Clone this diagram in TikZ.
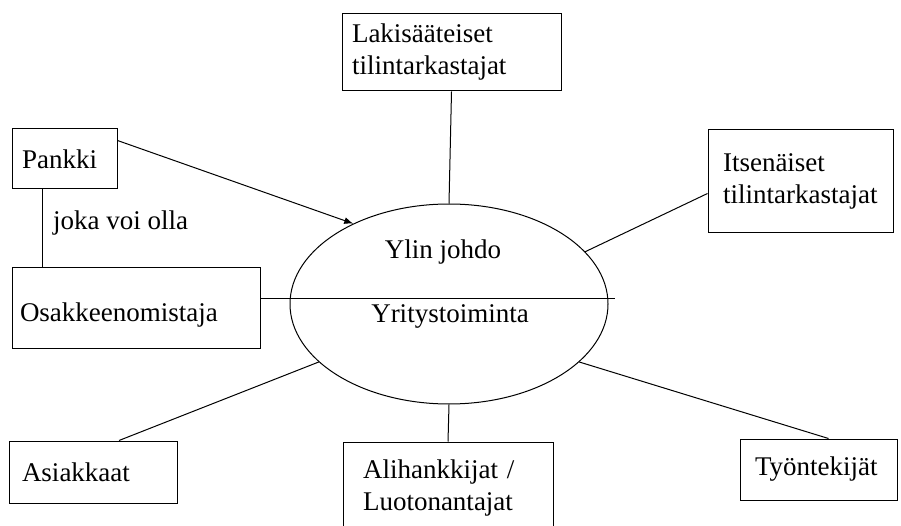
\documentclass[tikz,border=0pt]{standalone}
\usepackage{fontspec}
\setmainfont{Liberation Serif}
\usetikzlibrary{shapes.geometric,arrows.meta}
\tikzset{
  box/.style={draw, line width=1pt, rectangle, inner xsep=10pt, inner ysep=0pt, align=left,
    font=\fontsize{27}{32}\selectfont, anchor=center},
  ell/.style={draw, line width=1pt, ellipse, inner sep=0pt},
  lbl/.style={font=\fontsize{27}{32}\selectfont, inner sep=0pt},
  conn/.style={line width=1pt},
}
\begin{document}
\begin{tikzpicture}[x=1pt,y=1pt]
\clip (0,0) rectangle (901,525);
\fill[white] (0,0) rectangle (901,525);
% ellipse
\node[ell, minimum width=318pt, minimum height=200pt] (ell) at (449,221) {};
\node[lbl] (top) at (443,273) {Ylin johdo};
\node[lbl] (bot) at (450,209) {Yritystoiminta};
% boxes
\node[box, minimum width=105pt, minimum height=60pt, text width=85pt] (pan) at (64.5,366) {Pankki};
\node[box, minimum width=248pt, minimum height=80pt, text width=232pt, inner xsep=8pt] (osa) at (136,217) {\raisebox{-14pt}[0pt][0pt]{Osakkeenomistaja}};
\node[box, minimum width=219pt, minimum height=77pt, text width=199pt] (lak) at (451.5,472.5) {Lakisääteiset\\tilintarkastajat};
\node[box, minimum width=185pt, minimum height=103pt, text width=155pt, inner xsep=15pt] (its) at (800.5,343.5) {Itsenäiset\\tilintarkastajat};
\node[box, minimum width=168pt, minimum height=62pt, text width=142pt, inner xsep=13pt] (asi) at (93,53) {Asiakkaat};
\node[box, minimum width=210pt, minimum height=93pt, text width=170pt, inner xsep=20pt] (ali) at (448,36.5) {Alihankkijat /\\Luotonantajat};
\node[box, minimum width=157pt, minimum height=61pt, text width=127pt, inner xsep=15pt] (tyo) at (818.5,55.5) {Työntekijät};
% divider line
\coordinate (divR) at (615,226);
\draw[conn] (osa.east |- divR) -- (divR);
% connectors
\draw[conn] (lak.south) -- (ell.north);
\draw[conn, -{Latex[length=9pt,width=7pt]}] ([yshift=-12pt]pan.north east) -- (ell.140);
\draw[conn] ([yshift=-12pt]its.west) -- (ell.21);
\draw[conn] ([xshift=26pt]asi.north) -- (ell.204);
\draw[conn] (ali.north) -- (ell.south);
\draw[conn] ([xshift=10pt]tyo.north) -- (ell.336);
\draw[conn] ([xshift=31pt]pan.south west) -- ([xshift=31pt]pan.south west |- osa.north);
\node[lbl, anchor=west] (joka) at (53,302) {joka voi olla};
\end{tikzpicture}
\end{document}
